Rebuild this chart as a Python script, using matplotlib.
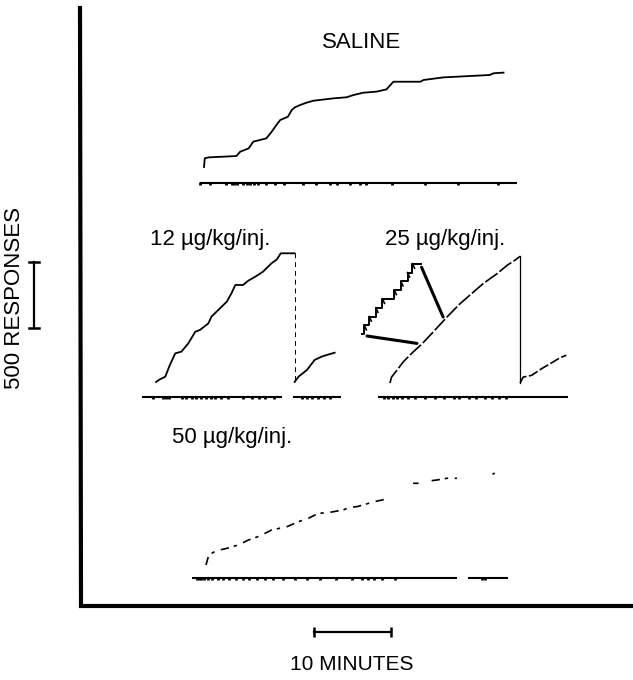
import numpy as np
import matplotlib
matplotlib.use('Agg')
import matplotlib.pyplot as plt
from matplotlib.patches import ConnectionPatch

plt.rcParams['font.family'] = ['Liberation Sans', 'DejaVu Sans']

# cumulative records: time (min) vs cumulative responses
sal_t = [0, 0.1, 0.6, 4.2, 4.7, 5.8, 6.4, 8.1, 8.8, 9.4, 9.9, 10.9, 11.4, 11.8, 12.5, 13.3,
         14.2, 16.8, 18.5, 19.4, 20.7, 22.4, 23.7, 24.2, 24.6, 28.1, 28.5, 31.1, 32.8, 37.1, 37.6, 38.9]
sal_r = [0, 66, 73, 83, 116, 141, 192, 217, 268, 318, 356, 381, 432, 452, 470, 487,
         502, 520, 528, 545, 563, 571, 588, 621, 646, 646, 659, 679, 684, 697, 710, 715]
sal_pips = [-0.5, 0.8, 2.8, 3.6, 3.9, 4.3, 5.1, 5.6, 6.0, 6.5, 7.0, 8.1, 9.2, 10.4,
            12.9, 14.6, 16.3, 17.3, 18.9, 20.3, 21.0, 24.4, 28.7, 33.0, 38.2]

d12_t1 = [0, 0.5, 1.2, 1.8, 2.5, 3.3, 4.2, 5.1, 5.7, 6.8, 7.2, 8.3, 9.2, 9.8, 10.3, 11.3,
          12.0, 12.9, 13.9, 15.0, 15.7, 16.2, 18.0]
d12_r1 = [0, 20, 40, 129, 217, 230, 293, 381, 394, 444, 495, 558, 609, 672, 735, 735,
          768, 798, 836, 899, 929, 975, 975]
d12_t2 = [18.0, 18.5, 19.6, 20.6, 21.5, 22.2, 23.2]
d12_r2 = [0, 40, 91, 167, 192, 205, 222]
d12_pips = [-0.4, 0.9, 1.3, 1.7, 3.4, 3.9, 4.7, 5.2, 5.9, 6.5, 7.1, 7.6, 8.5, 9.3,
            11.3, 12.5, 13.4, 14.2, 15.3, 18.9, 19.6, 20.3, 21.1, 21.8, 22.6]

d25_t1 = [0, 0.2, 0.9, 1.7, 3.0, 4.1, 5.6, 7.4, 9.1, 10.6, 12.1, 13.9, 15.2, 16.2, 16.9]
d25_r1 = [0, 45, 96, 159, 235, 293, 386, 500, 601, 677, 753, 828, 891, 929, 960]
d25_t2 = [16.9, 17.3, 18.4, 19.7, 20.8, 22.1, 22.9]
d25_r2 = [0, 45, 58, 109, 146, 192, 210]
d25_pips = [-0.8, -0.3, 0.4, 0.9, 1.5, 2.4, 3.3, 4.5, 5.8, 7.0, 8.3, 9.0, 10.2, 11.2,
            12.4, 13.3, 14.1, 15.0]

d50_t = [0, 0.3, 0.7, 1.4, 2.7, 4.2, 5.5, 7.0, 8.5, 10.5, 12.0, 13.3, 14.6, 16.1, 17.8,
         18.7, 19.6, 21.1, 21.9, 23.2, np.nan, 26.9, 27.6, np.nan, 29.3, 30.0, 31.3, 32.6,
         np.nan, 37.2, 37.5]
d50_r = [0, 63, 88, 109, 126, 152, 189, 220, 265, 290, 328, 354, 391, 399, 417,
         437, 442, 467, 480, 497, np.nan, 619, 619, np.nan, 639, 644, 657, 657,
         np.nan, 688, 696]
d50_pips = [-1.2, -0.9, -0.6, -0.3, 0.2, 0.8, 1.5, 2.2, 3.0, 3.9, 4.8, 5.6, 6.6, 7.6, 8.7,
            10.0, 11.5, 13.1, 14.8, 16.9, 19.0, 20.2, 21.0, 21.8, 22.8, 24.5, 35.8, 36.2]

# magnified detail of the 25 ug/kg record (seconds vs responses)
zig_t = [0, 1.6, 1.6, 4.0, 4.0, 7.2, 7.2, 10.4, 10.4, 16.1, 16.1, 19.3, 19.3, 22.5, 22.5,
         24.9, 24.9, 29.0]
zig_r = [0, 0, 1, 1, 2, 2, 3, 3, 4, 4, 5, 5, 6, 6, 7, 7, 8, 8]

W, H = 633, 680
PX_MIN = 7.7     # pixels per minute
PX_RESP = 0.132  # pixels per response

fig = plt.figure(figsize=(W / 100, H / 100), dpi=100)

# frame in pixel coordinates
frame = fig.add_axes([0, 0, 1, 1])
frame.set_xlim(0, W)
frame.set_ylim(H, 0)
frame.axis('off')


def rec_axes(x0, y0, t0=-3, t1=42, r0=-200, r1=1050):
    # axes with the cumulative-recorder scale, origin at pixel (x0, y0)
    left = (x0 + t0 * PX_MIN) / W
    width = (t1 - t0) * PX_MIN / W
    bottom = (H - (y0 - r0 * PX_RESP)) / H
    height = (r1 - r0) * PX_RESP / H
    ax = fig.add_axes([left, bottom, width, height])
    ax.set_xlim(t0, t1)
    ax.set_ylim(r0, r1)
    ax.axis('off')
    return ax


def event_line(ax, y, t_start, t_end, pips, gaps=()):
    segs = [t_start]
    for g0, g1 in gaps:
        segs += [g0, g1]
    segs.append(t_end)
    for a, b in zip(segs[::2], segs[1::2]):
        ax.plot([a, b], [y, y], color='black', lw=1.5, solid_capstyle='butt')
    ax.vlines(pips, y - 16, y + 4, color='black', lw=2.0)


# saline
ax_s = rec_axes(204, 167)
ax_s.plot(sal_t, sal_r, color='black', lw=1.3)
event_line(ax_s, -121, -0.5, 40.6, sal_pips)

# 12 ug/kg/inj
ax_12 = rec_axes(156, 382)
ax_12.plot(d12_t1, d12_r1, color='black', lw=1.3)
ax_12.plot([d12_t1[-1], d12_t2[0]], [d12_r1[-1], d12_r2[0]], color='black', lw=0.7,
           dashes=(5, 4))
ax_12.plot(d12_t2, d12_r2, color='black', lw=1.3)
event_line(ax_12, -114, -1.8, 24.0, d12_pips, gaps=[(16.4, 17.8)])

# 25 ug/kg/inj
ax_25 = rec_axes(390, 383)
ax_25.plot(d25_t1, d25_r1, color='black', lw=1.2, dashes=(9, 1.5))
ax_25.plot([d25_t1[-1], d25_t2[0]], [d25_r1[-1], d25_r2[0]], color='black', lw=0.9)
ax_25.plot(d25_t2, d25_r2, color='black', lw=1.2, dashes=(6, 1.5))
event_line(ax_25, -106, -1.6, 23.1, d25_pips)

# magnified inset
zx0, zy0, zw, zh = 361, 262, 62, 74
ax_z = fig.add_axes([zx0 / W, (H - zy0 - zh) / H, zw / W, zh / H])
ax_z.set_xlim(0, 30)
ax_z.set_ylim(-0.2, 8.2)
ax_z.axis('off')
ax_z.plot(zig_t, zig_r, color='black', lw=1.4)
for t, r in zip(zig_t[1::2][:-1], zig_r[2::2]):
    ax_z.plot([t, t + 1.0], [r, r - 0.5], color='black', lw=1.2)
for xyA, xyB in [((29.3, 7.6), (6.9, 500)), ((2.9, -0.2), (3.5, 300))]:
    con = ConnectionPatch(xyA=xyA, coordsA=ax_z.transData, xyB=xyB, coordsB=ax_25.transData,
                          color='black', lw=2.2)
    fig.add_artist(con)

# 50 ug/kg/inj
ax_50 = rec_axes(206, 565)
ax_50.plot(d50_t, d50_r, color='black', lw=1.2, dashes=(5, 3, 2, 4))
event_line(ax_50, -98, -1.8, 39.2, d50_pips, gaps=[(32.6, 34.0)])

# outer axes
frame.plot([80, 81, 633], [8, 606, 606], color='black', lw=3, solid_joinstyle='miter')

# scale bars
ax_sc = rec_axes(314, 632)
ax_sc.plot([0, 10], [0, 0], color='black', lw=1.6)
ax_sc.vlines([0, 10], -40, 40, color='black', lw=1.8)
ax_sr = rec_axes(34, 328)
ax_sr.plot([0, 0], [0, 500], color='black', lw=1.6)
ax_sr.plot([-0.6, 0.6], [0, 0], color='black', lw=1.8)
ax_sr.plot([-0.6, 0.6], [500, 500], color='black', lw=1.8)

# labels
fs = 16
frame.text(362, 42, 'SALINE', ha='center', va='center', fontsize=fs)
frame.text(210, 240, '12 µg/kg/inj.', ha='center', va='center', fontsize=fs)
frame.text(445, 240, '25 µg/kg/inj.', ha='center', va='center', fontsize=fs)
frame.text(232, 437, '50 µg/kg/inj.', ha='center', va='center', fontsize=fs)
frame.text(352, 664, '10 MINUTES', ha='center', va='center', fontsize=15)
frame.text(15, 298, '500 RESPONSES', ha='center', va='center', rotation=90, fontsize=fs)

plt.savefig('out.png', dpi=100)
